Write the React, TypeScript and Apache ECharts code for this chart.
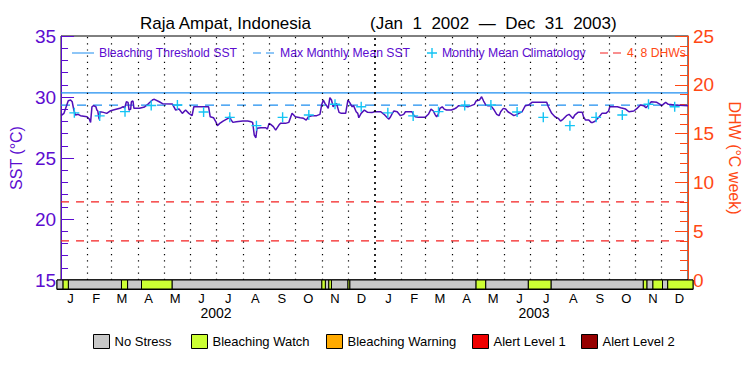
import React, { useEffect, useRef } from 'react';
import * as echarts from 'echarts';

// ---------- data ----------
const MONTH_LETTERS = ['J', 'F', 'M', 'A', 'M', 'J', 'J', 'A', 'S', 'O', 'N', 'D'];
const MONTH_LENGTHS = [31, 28, 31, 30, 31, 30, 31, 31, 30, 31, 30, 31, 31, 28, 31, 30, 31, 30, 31, 31, 30, 31, 30, 31];
const YEAR_LABELS = ['2002', '2003'];
const YEAR_MIDS = [182.5, 547.5];

// day index from Jan 1 2002
const sstDays = [
  0, 3.4, 8.4, 11.1, 13, 14.9, 16.8, 19.9, 22.6, 30.2, 32.9, 34.4, 36, 37.9, 40.6, 41.7, 42.8, 44.4, 45.5, 49.4,
  53.2, 57, 60.8, 68.5, 72.3, 74.2, 76.1, 78, 79.2, 81.1, 81.9, 83.8, 84.9, 91.4, 97.2, 101, 106.7, 108.7, 114.4, 118.2,
  129.7, 133.5, 137.4, 141.2, 145, 148.8, 152.6, 154.6, 171.8, 173.7, 177.5, 180.6, 182, 184.8, 188.7, 194.4, 196.3, 198.2, 200.1, 204,
  211.6, 217.4, 221.2, 223.1, 225, 226.9, 228.1, 232.7, 238.4, 240.3, 242.2, 244.1, 247.2, 249.9, 253.7, 255.6, 261.4, 265.2, 269, 272.8,
  278.6, 282.4, 285.5, 288.1, 292, 297.7, 301.5, 303.4, 305.4, 307.3, 309.2, 311.1, 313, 314.9, 316.8, 320.7, 323.7, 326.4, 331.4, 334,
  336, 339, 340.6, 343.6, 345.5, 346.7, 349.4, 353.2, 357, 362, 364.6, 372.3, 376.1, 379.9, 381.8, 383.7, 385.7, 387.6, 391.4, 395.2,
  399, 401, 408.6, 410.5, 412.4, 416.3, 423.9, 427.7, 430.8, 433.5, 435.4, 437.3, 439.2, 441.1, 443.8, 446.1, 448.8, 454.5, 457.6, 460.3,
  463, 467.9, 473.7, 477.5, 481.3, 483.2, 487.1, 489.7, 492, 494.7, 496.6, 500.4, 504.3, 507.3, 510, 511.9, 515, 517.7, 520.3, 523.4,
  527.2, 531.1, 533, 536.8, 540.6, 544.4, 548.3, 565.5, 567.4, 569.4, 571.3, 575.1, 578.9, 581.6, 584.7, 588.5, 591.5, 594.2, 596.1, 598.1,
  601.9, 606.9, 608.4, 610.7, 614.5, 617.2, 619.1, 622.2, 624.8, 626.7, 629.8, 634.4, 637.5, 639, 647.8, 651.6, 657.4, 661.2, 666.9, 670.7,
  674.6, 678.4, 681.1, 684.1, 687.2, 693.7, 697.5, 699.4, 702.5, 704, 707.1, 714.8, 730,
];
const sstValues = [
  28.47, 28.66, 29.7, 29.75, 29.61, 28.93, 28.52, 28.58, 28.47, 28.38, 28.19, 27.92, 29.2, 29.29, 29.2, 28.93, 28.85, 28.17, 28.79, 28.74,
  28.66, 28.85, 28.93, 29.07, 29.2, 29.12, 29.61, 29.56, 28.93, 29.01, 29.61, 29.67, 29.07, 29.07, 29.18, 29.4, 29.78, 29.81, 29.61, 29.45,
  29.42, 28.93, 29.01, 28.66, 28.93, 28.66, 28.47, 29.2, 29.2, 28.38, 28.3, 27.92, 27.65, 27.84, 28.03, 28.25, 28.38, 28.11, 27.92, 27.97,
  28.03, 28.03, 27.97, 27.92, 26.88, 26.66, 27.43, 27.48, 27.48, 27.37, 27.84, 27.76, 27.57, 27.29, 27.7, 27.84, 27.84, 27.92, 28.66, 28.38,
  28.3, 28.25, 28.11, 28.38, 28.47, 28.47, 28.58, 29.34, 29.75, 29.48, 29.29, 29.07, 29.94, 29.75, 29.2, 29.48, 28.74, 28.66, 28.66, 29.75,
  29.56, 29.2, 29.29, 28.79, 28.66, 28.3, 28.66, 28.93, 28.74, 28.72, 28.79, 28.79, 28.58, 28.3, 28.19, 28.38, 28.66, 28.85, 28.79, 28.47,
  28.58, 28.79, 28.79, 28.52, 28.38, 28.33, 28.33, 28.58, 29.01, 28.85, 28.58, 28.38, 28.58, 29.07, 29.2, 29.01, 28.93, 28.93, 29.01, 29.12,
  29.29, 29.29, 29.2, 29.29, 29.4, 29.67, 29.75, 30.02, 29.67, 29.34, 29.29, 29.29, 28.93, 28.58, 28.47, 28.79, 29.07, 29.01, 28.79, 28.66,
  28.47, 28.58, 28.66, 28.79, 29.29, 29.34, 29.56, 29.56, 29.2, 28.93, 28.66, 28.38, 28.25, 28.03, 28.19, 28.47, 28.58, 28.38, 28.25, 28.52,
  28.74, 28.74, 28.38, 28.11, 28.11, 27.92, 27.92, 28.03, 28.25, 28.38, 28.66, 28.66, 28.85, 29.2, 29.2, 29.12, 29.01, 28.79, 28.85, 29.07,
  29.34, 29.29, 29.12, 29.34, 29.61, 29.56, 29.4, 29.29, 29.48, 29.56, 29.4, 29.34, 29.29,
];

// monthly mean climatology (Jan..Dec), repeated each year
const climatology = [28.7, 28.45, 28.8, 29.3, 29.35, 28.77, 28.33, 27.65, 28.33, 28.52, 29.4, 29.2];
const MMM = 29.34;
const THRESHOLD = 30.34;
const DHW_LEVELS = [4, 8];

// bleaching status segments [startDay, endDay]
const noStressSegments = [
  [0, 7], [13, 74], [81, 97], [132, 304], [308, 312], [315, 334], [336, 481], [492, 541], [567, 673], [677, 684], [695, 701],
];
const watchSegments = [
  [7, 13], [74, 81], [97, 132], [304, 308], [312, 315], [334, 336], [481, 492], [541, 567], [673, 677], [684, 695], [701, 730],
];
const warningSegments: number[][] = [];
const alert1Segments: number[][] = [];
const alert2Segments: number[][] = [];

// ---------- styling ----------
const FONT = 'Liberation Sans, Arial, sans-serif';
const PURPLE = '#5c0cd0';
const LINE_PURPLE = '#5010b8';
const ORANGE = '#ff4814';
const BLUE = '#1e8ef0';
const CYAN = '#14c4f4';
const RED = '#f42020';

const monthStarts: number[] = [];
{
  let acc = 0;
  for (const l of MONTH_LENGTHS) {
    monthStarts.push(acc);
    acc += l;
  }
}
const monthMids = monthStarts.map((s, i) => s + MONTH_LENGTHS[i] / 2);

const plusSymbol = 'path://M4.3,0H5.7V10H4.3Z M0,4.3H10V5.7H0Z';
// legend icons (22x10 box; tiny zero-area corners keep the bounding box)
const solidLineIcon = 'path://M0,0L0.01,0L0,0.01Z M0,4.4H22V5.6H0Z M22,10L21.99,10L22,9.99Z';
const dashLineIcon = 'path://M0,0L0.01,0L0,0.01Z M0,4.4H8V5.6H0Z M13,4.4H21V5.6H13Z M22,10L21.99,10L22,9.99Z';

function statusSeries(name: string, color: string, segs: number[][]) {
  return {
    type: 'custom',
    name,
    xAxisIndex: 1,
    yAxisIndex: 2,
    itemStyle: { color },
    silent: true,
    data: segs,
    encode: { x: [0, 1] },
    renderItem: (_params: any, api: any) => {
      const s = api.coord([api.value(0), 1]);
      const e = api.coord([api.value(1), 0]);
      return {
        type: 'rect',
        shape: { x: s[0], y: s[1], width: e[0] - s[0], height: e[1] - s[1] },
        style: { fill: color, stroke: '#000', lineWidth: 1 },
      };
    },
  };
}

function topLegend(name: string, left: number, w: number, color: string, icon?: string) {
  return {
    left,
    top: 42,
    itemWidth: w,
    itemHeight: 10,
    itemGap: 5,
    selectedMode: false,
    data: [icon ? { name, icon } : { name }],
    textStyle: { color, fontSize: 12.2, fontFamily: FONT },
  };
}

function bottomLegend(name: string, left: number) {
  return {
    left,
    top: 329,
    icon: 'rect',
    itemWidth: 16,
    itemHeight: 14,
    itemGap: 5,
    selectedMode: false,
    itemStyle: { borderColor: '#000', borderWidth: 1 },
    data: [{ name }],
    textStyle: { color: '#000', fontSize: 13, fontFamily: FONT },
  };
}

const titleStyle = { fontFamily: FONT, fontSize: 17, fontWeight: 'normal', color: '#000' };

const option: any = {
  animation: false,
  backgroundColor: '#ffffff',
  textStyle: { fontFamily: FONT },
  title: [
    { text: 'Raja Ampat, Indonesia', left: 135, top: 10, textStyle: titleStyle },
    { text: '(Jan  1  2002  \u2014  Dec  31  2003)', left: 365, top: 10, textStyle: titleStyle },
  ],
  legend: [
    topLegend('Bleaching Threshold SST', 67, 22, PURPLE, solidLineIcon),
    topLegend('Max Monthly Mean SST', 248, 22, PURPLE, dashLineIcon),
    topLegend('Monthly Mean Climatology', 422, 10, PURPLE),
    topLegend('4, 8 DHWs', 595, 22, ORANGE, dashLineIcon),
    bottomLegend('No Stress', 88),
    bottomLegend('Bleaching Watch', 186),
    bottomLegend('Bleaching Warning', 321),
    bottomLegend('Alert Level 1', 467),
    bottomLegend('Alert Level 2', 576),
  ],
  grid: [
    { left: 57, top: 36, width: 636, height: 244, show: true, borderColor: '#000', borderWidth: 1 },
    { left: 57, top: 280, width: 636, height: 9, show: true, borderColor: '#000', borderWidth: 1 },
  ],
  xAxis: [
    {
      gridIndex: 0, type: 'value', min: 0, max: 730,
      axisLine: { show: false }, axisTick: { show: false }, axisLabel: { show: false }, splitLine: { show: false },
    },
    {
      gridIndex: 1, type: 'value', min: 0, max: 730, position: 'bottom',
      axisLine: { show: true, lineStyle: { color: '#000' } },
      axisTick: { show: false }, splitLine: { show: false },
      axisLabel: {
        customValues: monthMids,
        margin: 3,
        color: '#000',
        fontSize: 13,
        fontFamily: FONT,
        formatter: (v: number) => {
          const i = monthMids.findIndex((m) => Math.abs(m - v) < 0.01);
          return i >= 0 ? MONTH_LETTERS[i % 12] : '';
        },
      },
    },
    {
      gridIndex: 1, type: 'value', min: 0, max: 730, position: 'bottom',
      axisLine: { show: false }, axisTick: { show: false }, splitLine: { show: false },
      axisLabel: {
        customValues: YEAR_MIDS,
        margin: 17,
        color: '#000',
        fontSize: 14,
        fontFamily: FONT,
        formatter: (v: number) => {
          const i = YEAR_MIDS.findIndex((m) => Math.abs(m - v) < 0.01);
          return i >= 0 ? YEAR_LABELS[i] : '';
        },
      },
    },
  ],
  yAxis: [
    {
      gridIndex: 0, type: 'value', min: 15, max: 35, interval: 5, position: 'left',
      name: 'SST (\u00B0C)', nameLocation: 'middle', nameGap: 30,
      nameTextStyle: { color: PURPLE, fontSize: 16, fontFamily: FONT },
      axisLine: { show: true, lineStyle: { color: PURPLE, width: 1 } },
      axisTick: { show: true, inside: true, length: 13, lineStyle: { color: PURPLE } },
      minorTick: { show: true, splitNumber: 5, length: 7, lineStyle: { color: PURPLE } },
      axisLabel: { color: PURPLE, fontSize: 19, margin: 5, fontFamily: FONT },
      splitLine: { show: false },
    },
    {
      gridIndex: 0, type: 'value', min: 0, max: 25, interval: 5, position: 'right',
      name: 'DHW (\u00B0C week)', nameLocation: 'middle', nameGap: 38, nameRotate: -90,
      nameTextStyle: { color: ORANGE, fontSize: 16, fontFamily: FONT },
      axisLine: { show: true, lineStyle: { color: ORANGE, width: 1 } },
      axisTick: { show: true, inside: true, length: 13, lineStyle: { color: ORANGE } },
      minorTick: { show: true, splitNumber: 5, length: 8, lineStyle: { color: ORANGE } },
      axisLabel: { color: ORANGE, fontSize: 19, margin: 5, fontFamily: FONT },
      splitLine: { show: false },
    },
    { gridIndex: 1, type: 'value', min: 0, max: 1, show: false },
  ],
  series: [
    {
      type: 'line', name: 'months', xAxisIndex: 0, yAxisIndex: 0, data: [], silent: true, z: 1,
      markLine: {
        symbol: ['none', 'none'], silent: true, label: { show: false },
        data: monthStarts.slice(1).map((d) => ({
          xAxis: d,
          lineStyle: { color: '#000', width: d === 365 ? 1.7 : 1.2, type: d === 365 ? [2, 4] : [1.2, 5] },
        })),
      },
    },
    {
      type: 'line', name: 'Bleaching Threshold SST', xAxisIndex: 0, yAxisIndex: 0, symbol: 'none', z: 3,
      lineStyle: { color: BLUE, width: 1.2 }, itemStyle: { color: BLUE },
      data: [[0, THRESHOLD], [730, THRESHOLD]],
    },
    {
      type: 'line', name: 'Max Monthly Mean SST', xAxisIndex: 0, yAxisIndex: 0, symbol: 'none', z: 3,
      lineStyle: { color: BLUE, width: 1.2, type: [9, 7] }, itemStyle: { color: BLUE },
      data: [[0, MMM], [730, MMM]],
    },
    ...DHW_LEVELS.map((lv) => ({
      type: 'line', name: '4, 8 DHWs', xAxisIndex: 0, yAxisIndex: 1, symbol: 'none', z: 3,
      lineStyle: { color: RED, width: 1.2, type: [8, 7] }, itemStyle: { color: RED },
      data: [[0, lv], [730, lv]],
    })),
    {
      type: 'line', name: 'SST', xAxisIndex: 0, yAxisIndex: 0, symbol: 'none', z: 4,
      lineStyle: { color: LINE_PURPLE, width: 1.5 }, itemStyle: { color: LINE_PURPLE },
      data: sstDays.map((d, i) => [d, sstValues[i]]),
    },
    {
      type: 'scatter', name: 'Monthly Mean Climatology', xAxisIndex: 0, yAxisIndex: 0, z: 5,
      symbol: plusSymbol, symbolSize: 10, itemStyle: { color: CYAN, opacity: 1 },
      data: monthMids.map((d, i) => [d, climatology[i % 12]]),
    },
    statusSeries('No Stress', '#c8c8c8', noStressSegments),
    statusSeries('Bleaching Watch', '#ccff33', watchSegments),
    statusSeries('Bleaching Warning', '#ffaa00', warningSegments),
    statusSeries('Alert Level 1', '#f00000', alert1Segments),
    statusSeries('Alert Level 2', '#960000', alert2Segments),
  ],
};

export default function App() {
  const ref = useRef<HTMLDivElement>(null);
  useEffect(() => {
    if (!ref.current) return;
    const chart = echarts.init(ref.current, undefined, { renderer: 'svg' });
    chart.setOption(option);
    return () => chart.dispose();
  }, []);
  return <div ref={ref} style={{ position: 'absolute', left: 0, top: 0, width: 750, height: 375 }} />;
}
